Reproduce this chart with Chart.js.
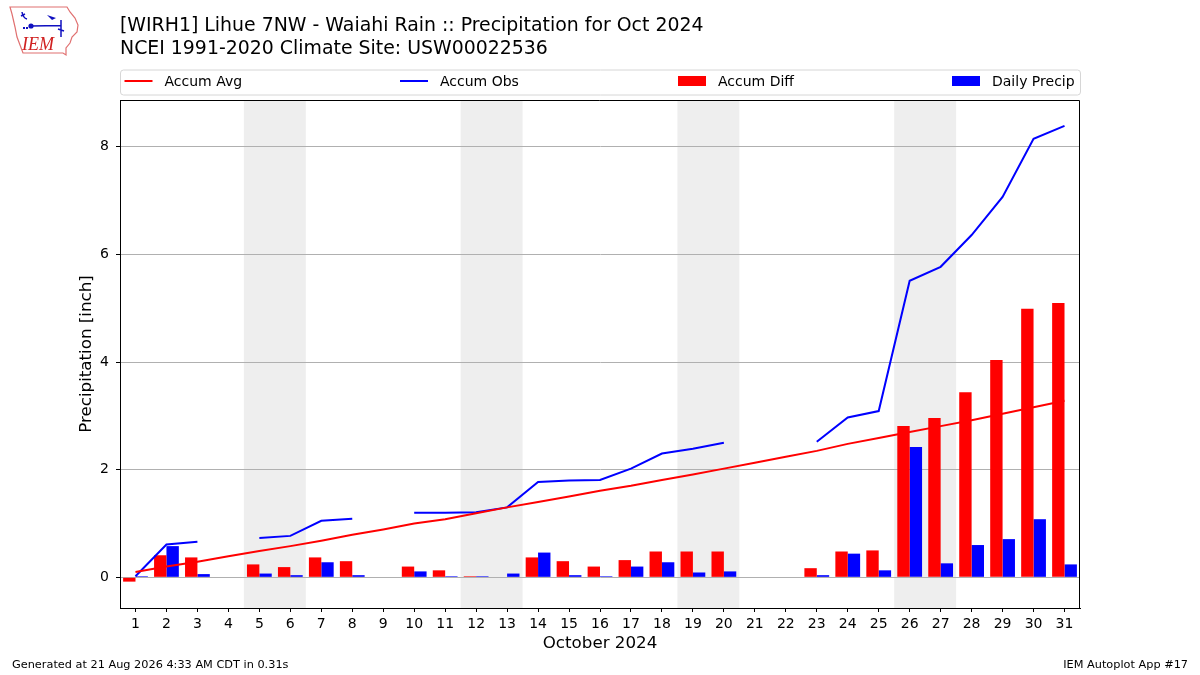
<!DOCTYPE html>
<html>
<head>
<meta charset="utf-8">
<title>WIRH1 Precipitation Oct 2024</title>
<script src="https://cdn.jsdelivr.net/npm/chart.js@4.4.1/dist/chart.umd.min.js"></script>
<style>
html, body { margin: 0; padding: 0; background: #fff; }
#wrap { position: relative; width: 1200px; height: 675px; }
</style>
</head>
<body>
<div id="wrap"><canvas id="precip-chart" width="1200" height="675"></canvas></div>
<script>
// data (inches)
var days = ["1","2","3","4","5","6","7","8","9","10","11","12","13","14","15","16",
    "17","18","19","20","21","22","23","24","25","26","27","28","29","30","31"];
var accumAvg = [0.10, 0.20, 0.29, 0.39, 0.49, 0.58, 0.68, 0.79, 0.89, 1.00, 1.08, 1.19, 1.30, 1.40, 1.50, 1.61,
    1.70, 1.81, 1.91, 2.02, 2.13, 2.24, 2.35, 2.48, 2.59, 2.70, 2.81, 2.92, 3.04, 3.16, 3.28];
var accumObs = [0.02, 0.61, 0.66, null, 0.73, 0.77, 1.05, 1.09, null, 1.20, 1.20, 1.21, 1.30, 1.77, 1.80, 1.81,
    2.02, 2.30, 2.39, 2.50, null, null, 2.52, 2.97, 3.09, 5.51, 5.77, 6.36, 7.07, 8.15, 8.39];
var accumDiff = [-0.08, 0.41, 0.37, null, 0.24, 0.19, 0.37, 0.30, null, 0.20, 0.13, 0.02, 0.00, 0.37, 0.30, 0.20,
    0.32, 0.48, 0.48, 0.48, null, null, 0.17, 0.48, 0.50, 2.81, 2.96, 3.44, 4.04, 4.99, 5.10];
var dailyPrecip = [0.02, 0.58, 0.06, null, 0.07, 0.04, 0.28, 0.04, null, 0.11, 0.02, 0.02, 0.07, 0.46, 0.04, 0.02,
    0.20, 0.28, 0.09, 0.11, null, null, 0.04, 0.44, 0.13, 2.42, 0.26, 0.60, 0.71, 1.08, 0.24];
var yTicks = [0, 2, 4, 6, 8];
var weekendStarts = ["5", "12", "19", "26"];   // Sat of each weekend, shaded Sat+Sun

var titleLines = ["[WIRH1] Lihue 7NW - Waiahi Rain :: Precipitation for Oct 2024",
    "NCEI 1991-2020 Climate Site: USW00022536"];
var footLeft = "Generated at 21 Aug 2026 4:33 AM CDT in 0.31s";
var footRight = "IEM Autoplot App #17";

Chart.defaults.font.family = "'DejaVu Sans', sans-serif";
Chart.defaults.color = "#000";

//weekend bands, under the grid
var weekendPlugin = {
    id: 'weekend_bands',
    beforeDraw: function(chart) {
        var ctx = chart.ctx;
        var x = chart.scales.x;
        var area = chart.chartArea;
        var half = (x.getPixelForValue(1) - x.getPixelForValue(0)) / 2;
        ctx.save();
        ctx.fillStyle = "#eeeeee";
        weekendStarts.forEach(function(d) {
            var i = days.indexOf(d);
            var x0 = x.getPixelForValue(i) - half;
            var x1 = x.getPixelForValue(i + 1) + half;
            ctx.fillRect(x0, area.top, x1 - x0, area.bottom - area.top);
        });
        ctx.restore();
    }
};

//titles, legend, footer, logo
var decorPlugin = {
    id: 'iem_decor',
    afterDraw: function(chart) {
        var ctx = chart.ctx;
        var area = chart.chartArea;
        ctx.save();

        // top + right spines
        ctx.strokeStyle = "#000";
        ctx.lineWidth = 1;
        ctx.beginPath();
        ctx.moveTo(area.left, area.top + 0.5);
        ctx.lineTo(area.right - 0.5, area.top + 0.5);
        ctx.lineTo(area.right - 0.5, area.bottom);
        ctx.stroke();

        // title
        ctx.fillStyle = "#000";
        ctx.font = "18.9px 'DejaVu Sans'";
        ctx.textBaseline = "alphabetic";
        ctx.textAlign = "left";
        ctx.fillText(titleLines[0], 120, 31);
        ctx.fillText(titleLines[1], 120, 53.7);

        // legend box
        var bx = 120.5, by = 70, bw = 960, bh = 25, r = 3;
        ctx.beginPath();
        ctx.moveTo(bx + r, by);
        ctx.arcTo(bx + bw, by, bx + bw, by + bh, r);
        ctx.arcTo(bx + bw, by + bh, bx, by + bh, r);
        ctx.arcTo(bx, by + bh, bx, by, r);
        ctx.arcTo(bx, by, bx + bw, by, r);
        ctx.closePath();
        ctx.fillStyle = "rgba(255,255,255,0.8)";
        ctx.fill();
        ctx.strokeStyle = "#d6d6d6";
        ctx.stroke();

        var slots = [124.5, 400, 678, 952];
        ctx.font = "14px 'DejaVu Sans'";
        chart.data.datasets.forEach(function(ds, i) {
            var hx = slots[i];
            var cy = 81;
            if (ds.type === 'line') {
                ctx.strokeStyle = ds.borderColor;
                ctx.lineWidth = 2;
                ctx.beginPath();
                ctx.moveTo(hx, cy);
                ctx.lineTo(hx + 28, cy);
                ctx.stroke();
            } else {
                ctx.fillStyle = ds.backgroundColor;
                ctx.fillRect(hx, cy - 5, 28, 10);
            }
            ctx.fillStyle = "#000";
            ctx.fillText(ds.label, hx + 40, 86.3);
        });

        // footer
        ctx.font = "11.3px 'DejaVu Sans'";
        ctx.textBaseline = "middle";
        ctx.fillText(footLeft, 12, 665);
        ctx.textAlign = "right";
        ctx.fillText(footRight, 1188, 665);

        // IEM logo
        ctx.strokeStyle = "#e07070";
        ctx.lineWidth = 1.2;
        ctx.beginPath();
        ctx.moveTo(10, 7); ctx.lineTo(67, 7); ctx.lineTo(70, 12); ctx.lineTo(75, 18);
        ctx.lineTo(78, 25); ctx.lineTo(77, 32); ctx.lineTo(72, 37); ctx.lineTo(70, 43);
        ctx.lineTo(66, 48); ctx.lineTo(66, 55); ctx.lineTo(63, 53); ctx.lineTo(23, 53);
        ctx.lineTo(20, 45); ctx.lineTo(17, 37); ctx.lineTo(15, 27); ctx.lineTo(12, 14);
        ctx.closePath();
        ctx.stroke();

        ctx.strokeStyle = "#1010c0";
        ctx.fillStyle = "#1010c0";
        ctx.lineWidth = 1.5;
        ctx.beginPath();
        ctx.moveTo(31, 26); ctx.lineTo(61, 25.5);
        ctx.moveTo(61, 20); ctx.lineTo(61, 37);
        ctx.moveTo(22, 12); ctx.quadraticCurveTo(23, 18, 27, 19);
        ctx.moveTo(21, 16); ctx.lineTo(25, 14);
        ctx.moveTo(58, 29); ctx.lineTo(64, 31);
        ctx.stroke();
        ctx.beginPath();
        ctx.arc(31, 26, 2.6, 0, Math.PI * 2);
        ctx.fill();
        ctx.beginPath();
        ctx.moveTo(47, 15); ctx.lineTo(56, 18); ctx.lineTo(52, 20); ctx.closePath();
        ctx.fill();
        ctx.fillRect(23, 27, 2, 2);
        ctx.fillRect(26, 27, 2, 2);

        ctx.fillStyle = "#d02020";
        ctx.font = "italic 18px 'Liberation Serif'";
        ctx.textAlign = "left";
        ctx.textBaseline = "alphabetic";
        ctx.fillText("IEM", 22, 50);

        ctx.restore();
    }
};

var ctx = document.getElementById("precip-chart").getContext('2d');
var precipChart = new Chart(ctx, {
    data: {
        labels: days,
        datasets: [{
            type: 'line',
            label: 'Accum Avg',
            data: accumAvg,
            borderColor: "#ff0000",
            borderWidth: 2,
            pointRadius: 0,
            tension: 0
        }, {
            type: 'line',
            label: 'Accum Obs',
            data: accumObs,
            borderColor: "#0000ff",
            borderWidth: 2,
            pointRadius: 0,
            spanGaps: false,
            tension: 0
        }, {
            type: 'bar',
            label: 'Accum Diff',
            data: accumDiff,
            backgroundColor: "#ff0000",
            categoryPercentage: 0.8,
            barPercentage: 1.0
        }, {
            type: 'bar',
            label: 'Daily Precip',
            data: dailyPrecip,
            backgroundColor: "#0000ff",
            categoryPercentage: 0.8,
            barPercentage: 1.0
        }]
    },
    options: {
        responsive: false,
        animation: false,
        layout: { padding: { top: 100, right: 120, bottom: 0, left: 0 } },
        plugins: {
            legend: { display: false },
            tooltip: { enabled: false },
            title: { display: false }
        },
        scales: {
            x: {
                type: 'category',
                offset: true,
                grid: { drawOnChartArea: false, drawTicks: true, tickLength: 4, tickColor: "#000", offset: false },
                border: { display: true, color: "#000", width: 1 },
                ticks: { autoSkip: false, maxRotation: 0, padding: 4, font: { size: 14 } },
                title: { display: true, text: 'October 2024', font: { size: 16.7 }, padding: { top: 0, bottom: 21 } },
                afterFit: function(scale) { scale.height = 67; }
            },
            y: {
                min: -0.57,
                max: 8.87,
                grid: { color: "#b0b0b0", lineWidth: 1, drawTicks: true, tickLength: 4, tickColor: "#000" },
                border: { display: true, color: "#000", width: 1 },
                ticks: { padding: 7, font: { size: 14 } },
                title: { display: true, text: 'Precipitation [inch]', font: { size: 16.7 }, padding: { top: 77, bottom: 0 } },
                afterBuildTicks: function(scale) {
                    scale.ticks = yTicks.map(function(v) { return { value: v }; });
                },
                afterFit: function(scale) { scale.width = 120; }
            }
        }
    },
    plugins: [weekendPlugin, decorPlugin]
});
</script>
</body>
</html>
